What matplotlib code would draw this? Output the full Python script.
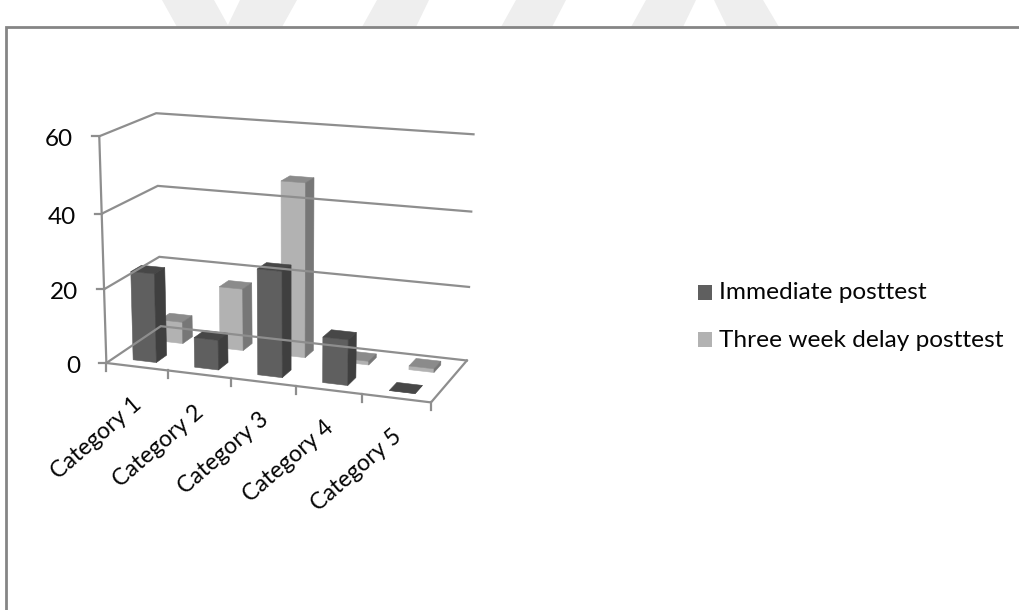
#!/usr/bin/env python3
"""Draw the posttest scores as a perspective column chart with two rows of bars."""

import matplotlib

matplotlib.use("Agg")

import matplotlib.pyplot as plt
from matplotlib.patches import Polygon, Rectangle
import numpy as np

CATEGORIES = ["Category 1", "Category 2", "Category 3", "Category 4", "Category 5"]
IMMEDIATE = [24, 8, 28, 12, 0]
DELAYED = [6, 17, 47, 1, 1]
Y_TICKS = [0, 20, 40, 60]
SERIES_NAMES = ["Immediate posttest", "Three week delay posttest"]

# (front, top, side) shades of each bar row
DARK = ("#5f5f5f", "#474747", "#3f3f3f")
LIGHT = ("#b2b2b2", "#8b8b8b", "#777777")
GRID = "#8e8e8e"
WATERMARK = "#eeeeee"
TEXT = "#050505"

# box corners (category, depth, value) and where they land on the canvas
CAMERA_POINTS = [
    ((0, 0, 0), (106.7, 363.3)),
    ((5, 0, 0), (430.7, 402.7)),
    ((5, 1, 0), (466.7, 360.0)),
    ((0, 1, 0), (160.7, 326.7)),
    ((0, 0, 60), (99.3, 136.0)),
    ((0, 1, 60), (156.0, 113.7)),
    ((5, 1, 60), (473.3, 134.3)),
    ((0, 0, 40), (101.7, 213.7)),
    ((0, 1, 40), (157.7, 186.0)),
    ((5, 1, 40), (471.7, 211.7)),
    ((0, 0, 20), (104.0, 289.0)),
    ((0, 1, 20), (159.3, 256.0)),
    ((5, 1, 20), (469.3, 287.0)),
]


def fit_camera(points):
    rows, rhs = [], []
    for (x, d, z), (u, v) in points:
        rows.append([x, d, z, 1, 0, 0, 0, 0, -u * x, -u * d, -u * z])
        rows.append([0, 0, 0, 0, x, d, z, 1, -v * x, -v * d, -v * z])
        rhs += [u, v]
    sol = np.linalg.lstsq(np.array(rows, float), np.array(rhs, float), rcond=None)[0]
    return np.append(sol, 1.0).reshape(3, 4)


CAMERA = fit_camera(CAMERA_POINTS)


def project(x, d, z):
    u, v, w = CAMERA @ np.array([x, d, z, 1.0])
    return u / w, v / w


def draw_bar(ax, cat, d0, d1, value, shades, width=0.38):
    x0 = cat + 0.5 - width / 2
    x1 = cat + 0.5 + width / 2
    front = [(x0, d0, 0), (x1, d0, 0), (x1, d0, value), (x0, d0, value)]
    top = [(x0, d0, value), (x1, d0, value), (x1, d1, value), (x0, d1, value)]
    side = [(x1, d0, 0), (x1, d1, 0), (x1, d1, value), (x1, d0, value)]
    for face, shade in zip((front, top, side), shades):
        pts = [project(*p) for p in face]
        ax.add_patch(Polygon(pts, closed=True, facecolor=shade, edgecolor=shade, linewidth=0.4))


def draw_line(ax, corners, lw=1.6):
    pts = np.array([project(*p) for p in corners])
    ax.plot(pts[:, 0], pts[:, 1], color=GRID, linewidth=lw, solid_joinstyle="miter")


def main():
    plt.rcParams["font.family"] = ["Lato", "DejaVu Sans"]
    fig = plt.figure(figsize=(10.19, 6.10), dpi=100)
    ax = fig.add_axes([0, 0, 1, 1])
    ax.set_xlim(0, 1019)
    ax.set_ylim(610, 0)
    ax.axis("off")

    # pale chevrons along the top edge, cut off by the frame
    for top_l, top_r, bot_l, bot_r in [
        (162, 214, 177, 229),
        (240, 297, 227, 282),
        (377, 429, 362, 416),
        (516, 566, 501, 552),
        (646, 696, 631, 683),
        (714, 763, 727, 779),
    ]:
        ax.add_patch(Polygon([(top_l, 0), (top_r, 0), (bot_r, 27), (bot_l, 27)], facecolor=WATERMARK, edgecolor="none"))

    # frame, open on the right and at the bottom
    ax.plot([6.5, 6.5, 1019], [610, 27, 27], color="#858585", linewidth=2.0, solid_joinstyle="miter")

    # back walls and floor
    for value in Y_TICKS:
        draw_line(ax, [(0, 0, value), (0, 1, value), (5, 1, value)])
    draw_line(ax, [(0, 0, 0), (5, 0, 0), (5, 1, 0)])
    draw_line(ax, [(0, 0, 0), (0, 0, Y_TICKS[-1])])

    for value in Y_TICKS:
        u, v = project(0, 0, value)
        ax.plot([u - 7, u], [v, v], color=GRID, linewidth=1.6)
        ax.text(u - 26, v + 9.8, str(value), ha="right", va="baseline", fontsize=17.5, color=TEXT)
    for i in range(len(CATEGORIES) + 1):
        u, v = project(i, 0, 0)
        ax.plot([u, u], [v, v + 8], color=GRID, linewidth=1.6)

    for i, label in enumerate(CATEGORIES):
        u, v = project(i + 0.5, 0, 0)
        ax.text(u - 5, v + 27, label, rotation=41, rotation_mode="anchor", ha="right", va="top",
                fontsize=16.6, color=TEXT)

    # rear row first so the front row covers it
    for i, value in enumerate(DELAYED):
        draw_bar(ax, i, 0.64, 0.83, value, LIGHT)
    for i, value in enumerate(IMMEDIATE):
        draw_bar(ax, i, 0.14, 0.33, value, DARK)

    for name, shades, y, base in zip(SERIES_NAMES, (DARK, LIGHT), (292, 339), (299.3, 347)):
        ax.add_patch(Rectangle((698, y - 7), 14.5, 14.5, facecolor=shades[0], edgecolor="none"))
        ax.text(719, base, name, ha="left", va="baseline", fontsize=17.6, color=TEXT)

    fig.savefig("out.png", dpi=100)
    plt.close(fig)


if __name__ == "__main__":
    main()
